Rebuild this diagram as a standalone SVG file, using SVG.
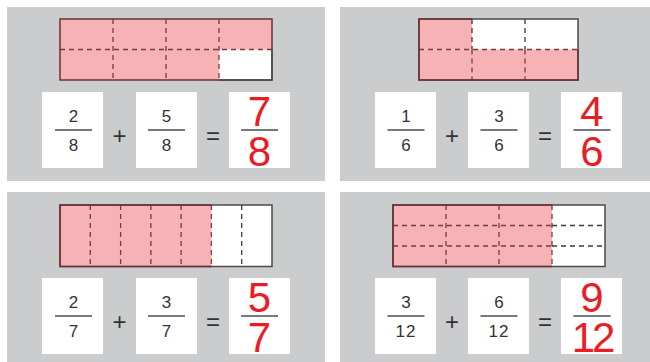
<svg xmlns="http://www.w3.org/2000/svg" width="650" height="362" viewBox="0 0 650 362">
<style>
.panel{fill:#cbcccd}
.box{fill:#ffffff}
.pink{fill:#f7b2b5}
.wht{fill:#ffffff}
.frame{fill:none;stroke:#4a4a4a;stroke-width:1.5}
.frameP{fill:none;stroke:#6e3036;stroke-width:1.5}
.dp{stroke:#7a3a42;stroke-width:1.3;stroke-dasharray:5 4;fill:none}
.dg{stroke:#3a3a3a;stroke-width:1.3;stroke-dasharray:5 4;fill:none}
.fl{stroke:#4d4d4d;stroke-width:1.5}
.num{font-family:"Liberation Sans",Arial,sans-serif;font-size:17px;fill:#333333;text-anchor:middle}
.op{font-family:"Liberation Sans",Arial,sans-serif;font-size:24px;fill:#333333;text-anchor:middle}
.ans{font-family:"Liberation Sans",Arial,sans-serif;font-size:42px;fill:#ec1c24;text-anchor:middle}
</style>

<!-- Panel 1: 2/8 + 5/8 = 7/8 -->
<g id="panel1">
  <rect class="panel" x="7" y="7" width="318" height="174"/>
  <rect class="pink" x="60" y="19" width="212" height="61"/>
  <rect class="wht" x="219" y="49.5" width="53" height="30.5"/>
  <path class="dp" d="M60 49.5H272M113 19V80M166 19V80M219 19V80"/>
  <rect class="frameP" x="60" y="19" width="212" height="61"/>
  <path class="frame" d="M219 80H272V49.5"/>
  <rect class="box" x="42" y="92" width="61" height="76"/>
  <rect class="box" x="136" y="92" width="61" height="76"/>
  <rect class="box" x="229" y="92" width="61" height="76"/>
  <text class="num" x="73.5" y="121.5">2</text>
  <line class="fl" x1="55" y1="130" x2="92" y2="130"/>
  <text class="num" x="73.5" y="150.5">8</text>
  <text class="op" x="119.5" y="144">+</text>
  <text class="num" x="166.5" y="121.5">5</text>
  <line class="fl" x1="148" y1="130" x2="185" y2="130"/>
  <text class="num" x="166.5" y="150.5">8</text>
  <text class="op" x="213" y="144">=</text>
  <text class="ans" x="259.5" y="126">7</text>
  <line class="fl" x1="241" y1="130" x2="278" y2="130"/>
  <text class="ans" x="259.5" y="165.5">8</text>
</g>

<!-- Panel 2: 1/6 + 3/6 = 4/6 -->
<g id="panel2">
  <rect class="panel" x="340" y="7" width="310" height="174"/>
  <rect class="wht" x="419" y="19" width="159" height="61"/>
  <rect class="pink" x="419" y="19" width="53" height="30.5"/>
  <rect class="pink" x="419" y="49.5" width="159" height="30.5"/>
  <path class="dp" d="M419 49.5H578M472 49.5V80M525 49.5V80"/>
  <path class="dg" d="M472 19V49.5M525 19V49.5"/>
  <rect class="frame" x="419" y="19" width="159" height="61"/>
  <path class="frameP" d="M472 19H419V80H578V49.5"/>
  <rect class="box" x="375" y="92" width="61" height="76"/>
  <rect class="box" x="468" y="92" width="61" height="76"/>
  <rect class="box" x="561" y="92" width="61" height="76"/>
  <text class="num" x="406" y="121.5">1</text>
  <line class="fl" x1="387.5" y1="130" x2="424.5" y2="130"/>
  <text class="num" x="406" y="150.5">6</text>
  <text class="op" x="452" y="144">+</text>
  <text class="num" x="499" y="121.5">3</text>
  <line class="fl" x1="480.5" y1="130" x2="517.5" y2="130"/>
  <text class="num" x="499" y="150.5">6</text>
  <text class="op" x="545" y="144">=</text>
  <text class="ans" x="592" y="126">4</text>
  <line class="fl" x1="573.5" y1="130" x2="610.5" y2="130"/>
  <text class="ans" x="592" y="165.5">6</text>
</g>

<!-- Panel 3: 2/7 + 3/7 = 5/7 -->
<g id="panel3">
  <rect class="panel" x="7" y="192" width="318" height="170"/>
  <rect class="wht" x="60" y="205" width="212" height="61.5"/>
  <rect class="pink" x="60" y="205" width="151.4" height="61.5"/>
  <path class="dp" d="M90.3 205V266.5M120.6 205V266.5M150.9 205V266.5M181.1 205V266.5M211.4 205V266.5"/>
  <path class="dg" d="M241.7 205V266.5"/>
  <rect class="frame" x="60" y="205" width="212" height="61.5"/>
  <path class="frameP" d="M211.4 205H60V266.5H211.4"/>
  <rect class="box" x="42" y="278" width="61" height="76"/>
  <rect class="box" x="136" y="278" width="61" height="76"/>
  <rect class="box" x="229" y="278" width="61" height="76"/>
  <text class="num" x="73.5" y="307.5">2</text>
  <line class="fl" x1="55" y1="316" x2="92" y2="316"/>
  <text class="num" x="73.5" y="336.5">7</text>
  <text class="op" x="119.5" y="330">+</text>
  <text class="num" x="166.5" y="307.5">3</text>
  <line class="fl" x1="148" y1="316" x2="185" y2="316"/>
  <text class="num" x="166.5" y="336.5">7</text>
  <text class="op" x="213" y="330">=</text>
  <text class="ans" x="259.5" y="312">5</text>
  <line class="fl" x1="241" y1="316" x2="278" y2="316"/>
  <text class="ans" x="259.5" y="351.5">7</text>
</g>

<!-- Panel 4: 3/12 + 6/12 = 9/12 -->
<g id="panel4">
  <rect class="panel" x="340" y="192" width="310" height="170"/>
  <rect class="wht" x="393" y="205" width="212" height="61.5"/>
  <rect class="pink" x="393" y="205" width="159" height="61.5"/>
  <path class="dp" d="M393 225.5H552M393 246H552M446 205V266.5M499 205V266.5M552 205V266.5"/>
  <path class="dg" d="M552 225.5H605M552 246H605"/>
  <rect class="frame" x="393" y="205" width="212" height="61.5"/>
  <path class="frameP" d="M552 205H393V266.5H552"/>
  <rect class="box" x="375" y="278" width="61" height="76"/>
  <rect class="box" x="468" y="278" width="61" height="76"/>
  <rect class="box" x="561" y="278" width="61" height="76"/>
  <text class="num" x="406" y="307.5">3</text>
  <line class="fl" x1="387.5" y1="316" x2="424.5" y2="316"/>
  <text class="num" x="406" y="336.5" letter-spacing="1">12</text>
  <text class="op" x="452" y="330">+</text>
  <text class="num" x="499" y="307.5">6</text>
  <line class="fl" x1="480.5" y1="316" x2="517.5" y2="316"/>
  <text class="num" x="499" y="336.5" letter-spacing="1">12</text>
  <text class="op" x="545" y="330">=</text>
  <text class="ans" x="592" y="312">9</text>
  <line class="fl" x1="573.5" y1="316" x2="610.5" y2="316"/>
  <text class="ans" x="592" y="351.5" letter-spacing="-3">12</text>
</g>
</svg>
